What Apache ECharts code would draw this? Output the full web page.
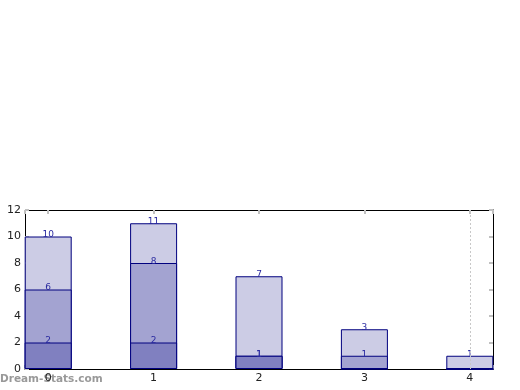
<!DOCTYPE html>
<html><head><meta charset="utf-8">
<script src="https://cdn.jsdelivr.net/npm/echarts@6/dist/echarts.min.js"></script>
<style>html,body{margin:0;padding:0;background:#fff}#c{width:520px;height:390px}</style>
</head><body><div id="c"></div>
<script>
var categories = [0, 1, 2, 3, 4];
var lowValues = [2, 2, 1, 0, 0];
var midValues = [6, 8, 1, 1, 0];
var highValues = [10, 11, 7, 3, 1];
var yTicks = [0, 2, 4, 6, 8, 10, 12];

function pts(vals){ return categories.map(function(c,i){ return [c, vals[i]]; }); }
function mk(name, vals, color){
  return {
    type: 'bar', name: name, data: pts(vals), barWidth: 47, barGap: '-100%',
    itemStyle: {color: color, borderColor: '#00007f', borderWidth: 1},
    label: {show: true, position: 'top', distance: -3, fontSize: 9, color: '#2a2aa0',
      fontFamily: 'DejaVu Sans',
      formatter: function(p){ return p.value[1] === 0 ? '' : String(p.value[1]); }},
    emphasis: {disabled: true}, animation: false
  };
}
function isInt(v){ return Math.abs(v - Math.round(v)) < 1e-6; }
var chart = echarts.init(document.getElementById('c'));
function axisCommon(){ return {
  axisLine: {show: true, onZero: false, lineStyle: {color: '#000', width: 1}},
  axisTick: {show: true, inside: true, length: 4, lineStyle: {color: '#c0c0c0', width: 2},
    interval: 0},
  splitLine: {show: false}
}; }
var hi = mk('high', highValues, '#cccce5');
hi.markLine = {silent: true, symbol: 'none', label: {show: false},
  lineStyle: {color: '#c8c8c8', type: [2, 2], width: 1},
  data: [{xAxis: categories[4]}]};
chart.setOption({
  animation: false,
  grid: {left: 25, right: 27, top: 210, bottom: 21, containLabel: false},
  xAxis: [
    Object.assign({type: 'value', min: -0.22, max: 4.22, splitNumber: 5,
      axisLabel: {show: true, fontSize: 11, color: '#222', fontFamily: 'DejaVu Sans', margin: 4,
        formatter: function(v){ return isInt(v) ? String(Math.round(v)) : ''; }},
      position: 'bottom'}, axisCommon()),
    Object.assign({type: 'value', min: -0.22, max: 4.22, splitNumber: 5, position: 'top',
      axisLabel: {show: false}}, axisCommon())
  ],
  yAxis: [
    Object.assign({type: 'value', min: yTicks[0], max: yTicks[yTicks.length-1], interval: 2,
      axisLabel: {fontSize: 11, color: '#222', fontFamily: 'DejaVu Sans', margin: 4}}, axisCommon()),
    Object.assign({type: 'value', min: yTicks[0], max: yTicks[yTicks.length-1], interval: 2, position: 'right',
      axisLabel: {show: false}}, axisCommon())
  ],
  series: [hi, mk('mid', midValues, '#a3a3d1'), mk('low', lowValues, '#8080c0')],
  graphic: [{type: 'text', left: 0, top: 374,
    style: {text: 'Dream-Stats.com', fontSize: 10.5, fontWeight: 'bold', fill: '#999', fontFamily: 'DejaVu Sans'}}]
});
</script></body></html>
